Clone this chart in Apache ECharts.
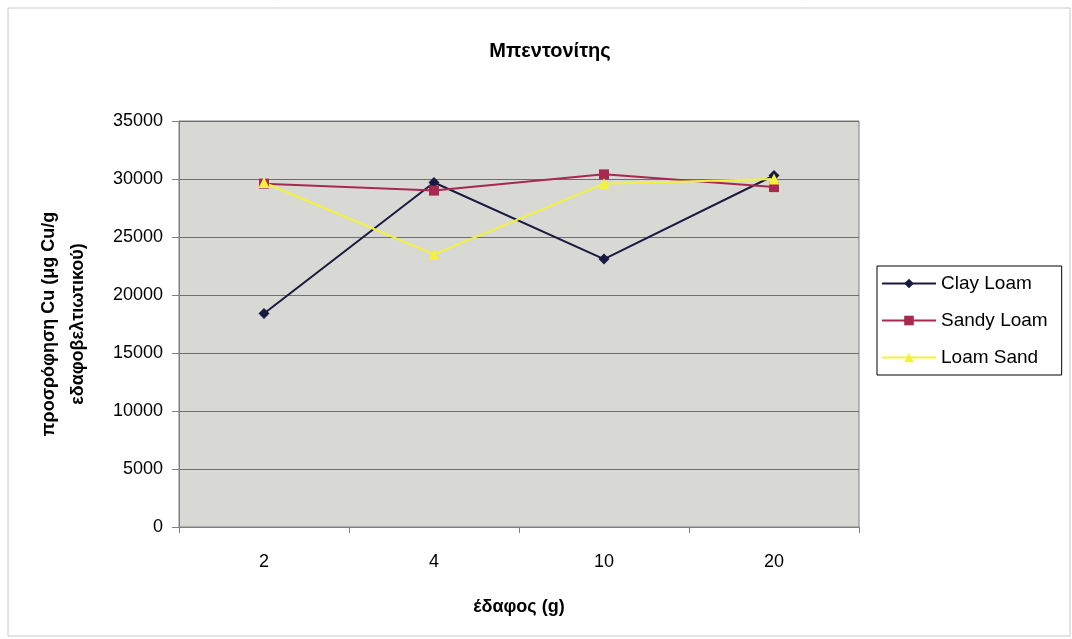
<!DOCTYPE html>
<html><head><meta charset="utf-8">
<script src="https://cdn.jsdelivr.net/npm/echarts@6/dist/echarts.min.js"></script>
<style>html,body{margin:0;padding:0;background:#fff}#c{width:1072px;height:639px}</style>
</head><body><div id="c"></div>
<script>
const categories = ['2', '4', '10', '20'];
const clayLoam = [18400, 29700, 23100, 30300];
const sandyLoam = [29600, 29000, 30400, 29300];
const loamSand = [29700, 23500, 29600, 30000];
const yTicks = [0, 35000, 5000];

const chart = echarts.init(document.getElementById('c'));
const font = 'Arial, "Liberation Sans", sans-serif';
chart.setOption({
  animation: false,
  backgroundColor: '#ffffff',
  graphic: [{
    type: 'rect', shape: {x: 8, y: 8, width: 1062, height: 628},
    style: {fill: 'none', stroke: '#c8c8c8', lineWidth: 1}, silent: true, z: -1
  }],
  title: {
    text: 'Μπεντονίτης', left: 545, top: 36, textAlign: 'center',
    textStyle: {fontFamily: font, fontSize: 20, fontWeight: 'bold', color: '#000'}
  },
  grid: {left: 179, top: 121, width: 680, height: 406, show: true,
    backgroundColor: '#d8d8d4', borderColor: '#808080', borderWidth: 1},
  legend: {
    orient: 'vertical', left: 877, top: 266,
    padding: [8, 14, 8, 4], itemGap: 18, itemWidth: 54, itemHeight: 12,
    borderColor: '#000', borderWidth: 1, backgroundColor: '#fff',
    textStyle: {fontFamily: font, fontSize: 19, color: '#000'},
    data: ['Clay Loam', 'Sandy Loam', 'Loam Sand']
  },
  xAxis: {
    type: 'category', data: categories, boundaryGap: true,
    name: 'έδαφος (g)', nameLocation: 'middle', nameGap: 71,
    nameTextStyle: {fontFamily: font, fontSize: 18, fontWeight: 'bold', color: '#000'},
    axisLine: {lineStyle: {color: '#808080'}},
    axisTick: {show: true, length: 6, lineStyle: {color: '#808080'}},
    axisLabel: {fontFamily: font, fontSize: 18, color: '#000', margin: 26}
  },
  yAxis: {
    type: 'value', min: yTicks[0], max: yTicks[1], interval: yTicks[2],
    name: 'προσρόφηση Cu (μg Cu/g\nεδαφοβελτιωτικού)', nameLocation: 'middle', nameGap: 86,
    nameTextStyle: {fontFamily: font, fontSize: 18, fontWeight: 'bold', color: '#000', lineHeight: 29},
    axisLine: {show: true, lineStyle: {color: '#808080'}},
    axisTick: {show: true, length: 7, lineStyle: {color: '#808080'}},
    axisLabel: {fontFamily: font, fontSize: 18, color: '#000', margin: 16,
      formatter: function (v) { return String(v); }},
    splitLine: {lineStyle: {color: '#6e6e6e', width: 1}}
  },
  series: [
    {name: 'Clay Loam', type: 'line', data: clayLoam, symbol: 'diamond', symbolSize: 11,
      itemStyle: {color: '#1a1a40'}, lineStyle: {color: '#1a1a40', width: 2}},
    {name: 'Sandy Loam', type: 'line', data: sandyLoam, symbol: 'rect', symbolSize: 10,
      itemStyle: {color: '#a8294f'}, lineStyle: {color: '#a8294f', width: 2}},
    {name: 'Loam Sand', type: 'line', data: loamSand, symbol: 'triangle', symbolSize: 11,
      itemStyle: {color: '#f2f23a'}, lineStyle: {color: '#f2f23a', width: 2}}
  ]
});
</script></body></html>
